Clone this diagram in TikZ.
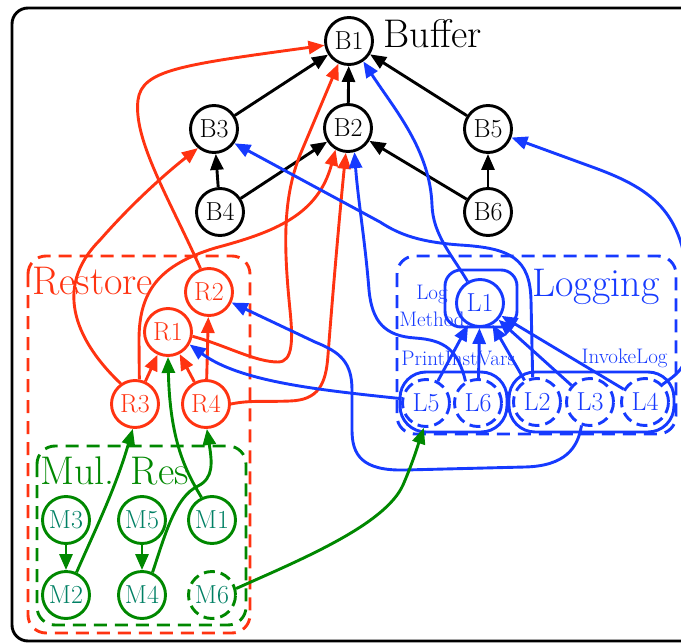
\documentclass[tikz,border=0pt]{standalone}
\usepackage{fontspec}
\usetikzlibrary{arrows.meta}
\definecolor{rred}{RGB}{255,51,17}
\definecolor{bblue}{RGB}{22,58,255}
\definecolor{ggreen}{RGB}{0,136,0}
\definecolor{mtext}{RGB}{0,128,100}
\begin{document}
\begin{tikzpicture}[x=1pt,y=-1pt,line width=2.9pt,
  nd/.style={circle,draw,minimum size=47pt,inner sep=0pt,font=\fontsize{26}{28}\selectfont},
  bnode/.style={nd,draw=black},
  rnode/.style={nd,draw=rred,text=rred},
  mnode/.style={nd,draw=ggreen,text=mtext},
  lnode/.style={nd,draw=bblue,text=bblue,dash pattern=on 11pt off 6pt},
  arr/.style={-{Triangle[length=16pt,width=13pt]}},
  kedge/.style={arr,draw=black},
  redge/.style={arr,draw=rred},
  bedge/.style={arr,draw=bblue},
  gedge/.style={arr,draw=ggreen},
  biglbl/.style={anchor=base west,inner sep=0pt,font=\fontsize{40}{44}\selectfont},
  smlbl/.style={inner sep=0pt,font=\fontsize{21}{27}\selectfont,text=bblue},
  clusterdash/.style={dash pattern=on 13pt off 8pt,rounded corners=18pt},
  clustersolid/.style={draw=bblue,rounded corners=26pt}]
\useasboundingbox (0,0) rectangle (681,643);
% outer frame
\draw[line width=2.9pt,rounded corners=16pt] (12,8) rectangle (720,641);
% clusters
\draw[clusterdash,draw=rred] (28,256) rectangle (250,633);
\draw[clusterdash,draw=ggreen] (37,446) rectangle (246,625);
\draw[clusterdash,draw=bblue] (397,256) rectangle (676,434);
\draw[draw=bblue,rounded corners=16pt] (445,270) rectangle (517,327);
\draw[clustersolid] (400,372) rectangle (507,432);
\draw[clustersolid] (509,372) rectangle (674,432);
% labels
\node[biglbl] (lbuf) at (382,47) {Buffer};
\node[biglbl,text=rred] (lres) at (31,294) {Restore};
\node[biglbl,text=ggreen] (lmul) at (39,484) {Mul. Res};
\node[biglbl,text=bblue] (llog) at (531,296) {Logging};
\node[smlbl,align=center] (llm) at (432,306) {Log\\Method};
\node[smlbl,anchor=base west] (lpiv) at (400,365) {PrintInstVars};
\node[smlbl,anchor=base east] (linv) at (669,363) {InvokeLog};
% nodes
\node[bnode] (B1) at (349,41) {B1};
\node[bnode] (B2) at (348,128) {B2};
\node[bnode] (B3) at (214,129) {B3};
\node[bnode] (B5) at (488,129) {B5};
\node[bnode] (B4) at (220,212) {B4};
\node[bnode] (B6) at (488,212) {B6};
\node[rnode] (R2) at (209,292) {R2};
\node[rnode] (R1) at (168,332) {R1};
\node[rnode] (R3) at (135,404) {R3};
\node[rnode] (R4) at (206,404) {R4};
\node[mnode] (M3) at (66,520) {M3};
\node[mnode] (M5) at (142,520) {M5};
\node[mnode] (M1) at (212,520) {M1};
\node[mnode] (M2) at (66,595) {M2};
\node[mnode] (M4) at (142,595) {M4};
\node[mnode,dash pattern=on 11pt off 6pt] (M6) at (212,595) {M6};
\node[nd,draw=bblue,text=bblue] (L1) at (480,303) {L1};
\node[lnode] (L5) at (426,403) {L5};
\node[lnode] (L6) at (478,403) {L6};
\node[lnode] (L2) at (537,402) {L2};
\node[lnode] (L3) at (590,402) {L3};
\node[lnode] (L4) at (645,402) {L4};
% black edges
\draw[kedge] (B3) -- (B1);
\draw[kedge] (B2) -- (B1);
\draw[kedge] (B5) -- (B1);
\draw[kedge] (B4) -- (B3);
\draw[kedge] (B4) -- (B2);
\draw[kedge] (B6) -- (B2);
\draw[kedge] (B6) -- (B5);
% red edges
\draw[redge] (R2.110) .. controls (170,200) and (133,140) .. (138,100) .. controls (142,70) and (180,65) .. (B1.190);
\draw[redge] (R3.125) .. controls (80,345) and (50,290) .. (100,240) .. controls (135,200) and (170,170) .. (B3.230);
\draw[redge] (R3.80) -- (139,340) .. controls (139,290) and (160,265) .. (215,248) .. controls (275,232) and (318,215) .. (B2.240);
\draw[redge] (R1.-10) .. controls (225,345) and (255,362) .. (278,362) .. controls (293,362) and (293,340) .. (290,310) .. controls (284,250) and (282,200) .. (300,155) -- (B1.245);
\draw[redge] (R4.east) .. controls (250,400) and (265,402) .. (290,401) .. controls (318,400) and (326,385) .. (328,355) .. controls (333,290) and (340,210) .. (B2.265);
\draw[redge] (R3) -- (R1);
\draw[redge] (R4) -- (R1);
\draw[redge] (R4) -- (R2);
% blue edges
\draw[bedge] (L1.120) .. controls (452,255) and (433,235) .. (432,205) .. controls (430,150) and (395,110) .. (B1.-55);
\draw[bedge] (L2.100) -- (531,300) .. controls (530,258) and (510,248) .. (460,245) .. controls (420,242) and (400,235) .. (380,222) -- (B3.-35);
\draw[bedge] (L6.120) .. controls (458,350) and (445,340) .. (415,338) .. controls (385,336) and (372,322) .. (369,290) .. controls (365,240) and (358,200) .. (B2.-75);
\draw[bedge] (L5.170) .. controls (320,390) and (240,382) .. (R1.-30);
\draw[bedge] (L3.250) .. controls (578,448) and (565,466) .. (525,467) -- (405,470) .. controls (362,471) and (352,455) .. (352,430) -- (352,390) .. controls (352,362) and (340,352) .. (315,342) -- (R2.-25);
\draw[bedge] (L4.45) .. controls (675,375) and (688,370) .. (688,340) -- (688,295) .. controls (687,215) and (655,190) .. (595,168) -- (B5.-20);
\draw[bedge] (L5) -- (L1);
\draw[bedge] (L6) -- (L1);
\draw[bedge] (L2) -- (L1);
\draw[bedge] (L3) -- (L1);
\draw[bedge] (L4) -- (L1);
% green edges
\draw[gedge] (M3) -- (M2);
\draw[gedge] (M5) -- (M4);
\draw[gedge] (M2.65) .. controls (95,530) and (115,490) .. (R3.-95);
\draw[gedge] (M4.65) .. controls (165,535) and (175,497) .. (198,486) .. controls (214,478) and (212,462) .. (R4.-88);
\draw[gedge] (M1.115) .. controls (185,470) and (170,440) .. (R1.-90);
\draw[gedge] (M6.15) .. controls (300,560) and (385,525) .. (403,485) .. controls (413,462) and (418,445) .. (L5.-95);
\end{tikzpicture}
\end{document}
